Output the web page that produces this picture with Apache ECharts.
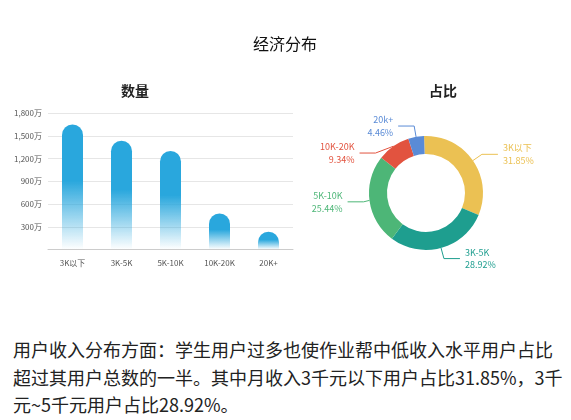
<!DOCTYPE html>
<html><head><meta charset="utf-8">
<script src="https://cdn.jsdelivr.net/npm/echarts@6/dist/echarts.min.js"></script>
<style>
html,body{margin:0;padding:0;background:#fff;}
#c{width:571px;height:320px;}
#t{position:absolute;left:13px;top:336px;width:550px;font-family:"Noto Sans CJK SC","Noto Sans",sans-serif;font-size:18px;line-height:27.5px;color:#222;}
</style></head><body>
<div id="c"></div>
<div id="t">用户收入分布方面：学生用户过多也使作业帮中低收入水平用户占比超过其用户总数的一半。其中月收入3千元以下用户占比31.85%，3千元~5千元用户占比28.92%。</div>
<script>
const categories = ['3K以下','3K-5K','5K-10K','10K-20K','20K+'];
const barValues = [1650, 1435, 1300, 476, 235];
const pieNames = ['3K以下','3K-5K','5K-10K','10K-20K','20k+'];
const pieValues = [31.85, 28.92, 25.44, 9.34, 4.46];
const pieColors = ['#ebc153','#1e9e8f','#4db677','#e2533f','#5a8bd6'];

const chart = echarts.init(document.getElementById('c'), null, {renderer:'canvas'});
const ff = '"Noto Sans CJK SC","Noto Sans",sans-serif';
chart.setOption({
  animation:false,
  textStyle:{fontFamily:ff},
  title:[
    {text:'经济分布', left:280, textAlign:'center', top:31, textStyle:{fontSize:16, fontWeight:'normal', color:'#111', fontFamily:ff}},
    {text:'数量', left:130, textAlign:'center', top:79, textStyle:{fontSize:14, fontWeight:'bold', color:'#222'}},
    {text:'占比', left:438, textAlign:'center', top:79, textStyle:{fontSize:14, fontWeight:'bold', color:'#222'}}
  ],
  grid:{left:48, top:113, width:245, height:136.5},
  xAxis:{type:'category', data:categories,
    axisLine:{lineStyle:{color:'#ccc'}}, axisTick:{show:false},
    axisLabel:{color:'#555', fontSize:8, margin:9}},
  yAxis:{type:'value', min:0, max:1800, interval:300,
    axisLine:{show:false}, axisTick:{show:false},
    axisLabel:{color:'#555', fontSize:8, showMinLabel:false, formatter:v=>v.toLocaleString('en-US')+'万', margin:6},
    splitLine:{lineStyle:{color:'#e6e6e6'}}},
  series:[
    {type:'bar', data:barValues, barWidth:21,
      itemStyle:{borderRadius:[10.5,10.5,0,0],
        color:new echarts.graphic.LinearGradient(0,0,0,1,[
          {offset:0,color:'#29a7dd'},{offset:0.45,color:'#29a7dd'},{offset:1,color:'rgba(41,167,221,0)'}])}},
    {type:'pie', center:[426,193], radius:[39,57], startAngle:92, clockwise:true,
      data:pieNames.map((n,i)=>({name:n, value:pieValues[i], itemStyle:{color:pieColors[i]}})),
      label:{formatter:'{b}\n{c}%', fontSize:9, lineHeight:12.5, align:'center', color:'inherit'},
      labelLine:{length:11, length2:16, lineStyle:{width:1}}
    }
  ]
});
</script>
</body></html>
